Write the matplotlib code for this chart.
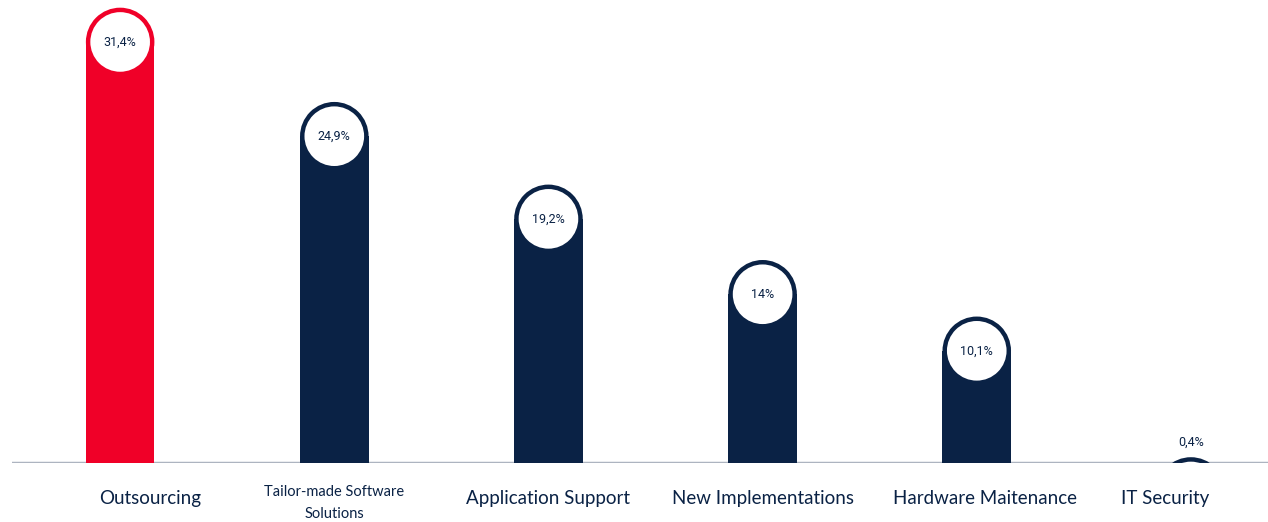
import numpy as np
import matplotlib.pyplot as plt
from matplotlib.patches import Rectangle, Ellipse

categories = ["Outsourcing", "Tailor-made Software\nSolutions", "Application Support",
              "New Implementations", "Hardware Maitenance", "IT Security"]
values = [31.4, 24.9, 19.2, 14.0, 10.1, 0.4]
value_labels = ["31,4%", "24,9%", "19,2%", "14%", "10,1%", "0,4%"]
bar_colors = ["#f00028", "#0a2245", "#0a2245", "#0a2245", "#0a2245", "#0a2245"]
label_shift = [0.14, 0, 0, 0, 0.04, -0.12]

navy = "#0a2245"

W, H = 1268, 522
fig = plt.figure(figsize=(W / 100, H / 100), dpi=100)
ax_left, ax_bottom = 12 / W, 59 / H
ax_w, ax_h = 1 - ax_left, 463 / H
ax = fig.add_axes([ax_left, ax_bottom, ax_w, ax_h])

xmin, xmax = -0.505, 5.36
ymin, ymax = 0, 31.93
ax.set_xlim(xmin, xmax)
ax.set_ylim(ymin, ymax)

# pixel -> data factors so the caps come out round
px_x = (xmax - xmin) / (ax_w * W)
px_y = (ymax - ymin) / (ax_h * H)

bw = 0.32               # bar width in x units
r_px = bw / px_x / 2    # cap radius in pixels
ry = r_px * px_y        # cap radius in y units
inner = 0.87            # white disc relative to cap

for i, (v, c, lab) in enumerate(zip(values, bar_colors, value_labels)):
    cy = v - ry  # centre of the rounded cap
    body_top = max(cy, 0)
    ax.add_patch(Rectangle((i - bw / 2, 0), bw, body_top, color=c, lw=0))
    ax.add_patch(Ellipse((i, cy), bw, 2 * ry, color=c, lw=0))
    ax.add_patch(Ellipse((i, cy), bw * inner, 2 * ry * inner, color="white", lw=0))
    if cy > ry * inner:
        ax.text(i, cy, lab, ha="center", va="center", fontsize=9,
                color=navy, family="Roboto", fontstretch="condensed")
    else:
        ax.text(i, v + 0.6, lab, ha="center", va="bottom", fontsize=9,
                color=navy, family="Roboto", fontstretch="condensed")

# baseline
ax.axhline(0, color="#adb4c0", lw=2.5, zorder=0)

for s in ax.spines.values():
    s.set_visible(False)
ax.set_yticks([])
ax.set_xticks(range(len(categories)))
ax.set_xticklabels([])
ax.tick_params(length=0)

for i, cat in enumerate(categories):
    if "\n" in cat:
        ax.text(i, -1.55, cat, ha="center", va="top", fontsize=10.5, color=navy,
                family="Lato", linespacing=1.7, clip_on=False)
    else:
        ax.text(i + label_shift[i], -1.85, cat, ha="center", va="top",
                fontsize=13.5, color=navy, family="Lato", clip_on=False)

fig.savefig("out.png", dpi=100)
